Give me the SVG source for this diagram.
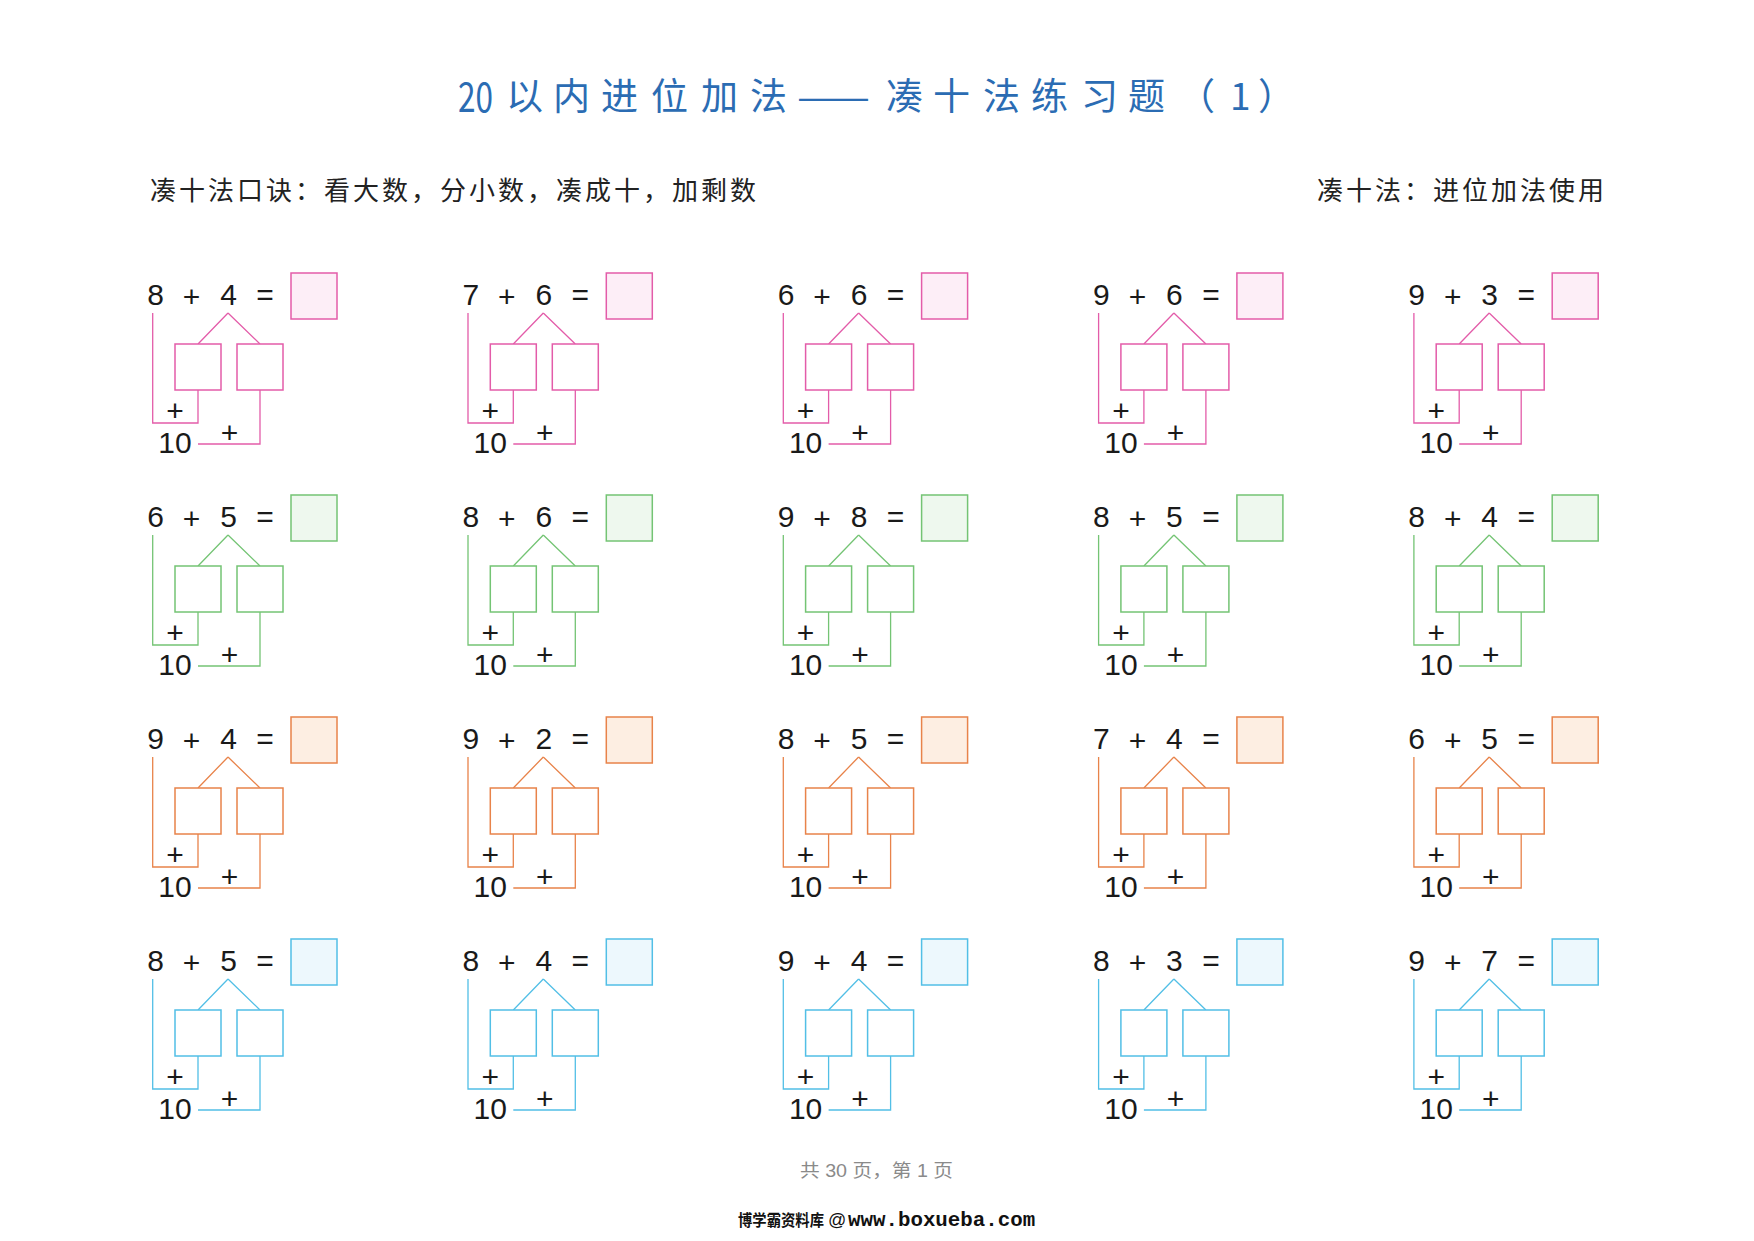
<svg xmlns="http://www.w3.org/2000/svg" xmlns:xlink="http://www.w3.org/1999/xlink" width="1754" height="1241" viewBox="0 0 1754 1241">
<style>
.bg{fill:#ffffff}
.title{font-family:"Noto Sans CJK SC","Liberation Sans",sans-serif;font-size:37px;fill:#2b6cb3}
.ttl20{font-family:"Noto Sans CJK SC","Liberation Sans",sans-serif;font-size:41px;fill:#2b6cb3}
.sub{font-family:"Noto Sans CJK SC",sans-serif;font-size:26px;fill:#222;letter-spacing:3px}
.num{font-family:"Liberation Sans","Noto Sans CJK SC",sans-serif;font-size:30px;fill:#1a1a1a;text-anchor:middle}
.foot1{font-family:"Liberation Sans","Noto Sans CJK SC",sans-serif;font-size:18px;fill:#8a8a8a}
.foot2{font-family:"Noto Sans CJK SC",sans-serif;font-size:16px;fill:#111;font-weight:bold}
.mono{font-family:"Liberation Mono",monospace;font-size:20.8px;font-weight:bold;fill:#111}
.at{font-family:"Liberation Sans",sans-serif;font-size:18px;fill:#111}
.cell rect{stroke-width:1.5}
.part{fill:#ffffff}
.pk rect{stroke:#e35ca9}.pk .ans{fill:#fdeef7}
.gr rect{stroke:#74c474}.gr .ans{fill:#eef8ee}
.or rect{stroke:#e8834a}.or .ans{fill:#fdeee2}
.bl rect{stroke:#52bfe6}.bl .ans{fill:#edf8fd}
.link{fill:none;stroke-width:1.3}
</style>
<defs>
<path id="lk" d="M152.7,313 V423 H198 V390 M228,313 L198,344 M228,313 L260,344 M198,444 H260 V390"/>
</defs>
<rect class="bg" x="0" y="0" width="1754" height="1241"/>

<g id="title">
<text class="ttl20" x="458" y="112" textLength="35" lengthAdjust="spacingAndGlyphs">20</text>
<text class="title" x="506 553 601 651 701 750" y="110">以内进位加法</text>
<text class="title" x="797" y="110" textLength="73" lengthAdjust="spacingAndGlyphs">——</text>
<text class="title" x="886 933 983 1031 1081 1128 1178 1230 1258" y="110">凑十法练习题（1）</text>
</g>
<text id="rhyme" class="sub" x="150" y="200">凑十法口诀：看大数，分小数，凑成十，加剩数</text>
<text id="usage" class="sub" x="1317" y="200">凑十法：进位加法使用</text>

<g id="connectors" class="link">
<use xlink:href="#lk" stroke="#e35ca9" transform="translate(0,0)"/>
<use xlink:href="#lk" stroke="#e35ca9" transform="translate(315.3,0)"/>
<use xlink:href="#lk" stroke="#e35ca9" transform="translate(630.6,0)"/>
<use xlink:href="#lk" stroke="#e35ca9" transform="translate(945.9,0)"/>
<use xlink:href="#lk" stroke="#e35ca9" transform="translate(1261.2,0)"/>
<use xlink:href="#lk" stroke="#74c474" transform="translate(0,222)"/>
<use xlink:href="#lk" stroke="#74c474" transform="translate(315.3,222)"/>
<use xlink:href="#lk" stroke="#74c474" transform="translate(630.6,222)"/>
<use xlink:href="#lk" stroke="#74c474" transform="translate(945.9,222)"/>
<use xlink:href="#lk" stroke="#74c474" transform="translate(1261.2,222)"/>
<use xlink:href="#lk" stroke="#e8834a" transform="translate(0,444)"/>
<use xlink:href="#lk" stroke="#e8834a" transform="translate(315.3,444)"/>
<use xlink:href="#lk" stroke="#e8834a" transform="translate(630.6,444)"/>
<use xlink:href="#lk" stroke="#e8834a" transform="translate(945.9,444)"/>
<use xlink:href="#lk" stroke="#e8834a" transform="translate(1261.2,444)"/>
<use xlink:href="#lk" stroke="#52bfe6" transform="translate(0,666)"/>
<use xlink:href="#lk" stroke="#52bfe6" transform="translate(315.3,666)"/>
<use xlink:href="#lk" stroke="#52bfe6" transform="translate(630.6,666)"/>
<use xlink:href="#lk" stroke="#52bfe6" transform="translate(945.9,666)"/>
<use xlink:href="#lk" stroke="#52bfe6" transform="translate(1261.2,666)"/>
</g>

<!-- Row 1 -->
<g id="q1" class="cell pk" transform="translate(0,0)">
<rect class="ans" x="291" y="273" width="46" height="46"/><rect class="part" x="175" y="344" width="46" height="46"/><rect class="part" x="237" y="344" width="46" height="46"/>
<text class="num" x="155.5" y="305">8</text><text class="num" x="191.5" y="306.5">+</text><text class="num" x="228.5" y="305">4</text><text class="num" x="265" y="304.5">=</text>
<text class="num" x="175" y="420.5">+</text><text class="num" x="229.5" y="442.5">+</text><text class="num" x="175" y="453">10</text>
</g>
<g id="q2" class="cell pk" transform="translate(315.3,0)">
<rect class="ans" x="291" y="273" width="46" height="46"/><rect class="part" x="175" y="344" width="46" height="46"/><rect class="part" x="237" y="344" width="46" height="46"/>
<text class="num" x="155.5" y="305">7</text><text class="num" x="191.5" y="306.5">+</text><text class="num" x="228.5" y="305">6</text><text class="num" x="265" y="304.5">=</text>
<text class="num" x="175" y="420.5">+</text><text class="num" x="229.5" y="442.5">+</text><text class="num" x="175" y="453">10</text>
</g>
<g id="q3" class="cell pk" transform="translate(630.6,0)">
<rect class="ans" x="291" y="273" width="46" height="46"/><rect class="part" x="175" y="344" width="46" height="46"/><rect class="part" x="237" y="344" width="46" height="46"/>
<text class="num" x="155.5" y="305">6</text><text class="num" x="191.5" y="306.5">+</text><text class="num" x="228.5" y="305">6</text><text class="num" x="265" y="304.5">=</text>
<text class="num" x="175" y="420.5">+</text><text class="num" x="229.5" y="442.5">+</text><text class="num" x="175" y="453">10</text>
</g>
<g id="q4" class="cell pk" transform="translate(945.9,0)">
<rect class="ans" x="291" y="273" width="46" height="46"/><rect class="part" x="175" y="344" width="46" height="46"/><rect class="part" x="237" y="344" width="46" height="46"/>
<text class="num" x="155.5" y="305">9</text><text class="num" x="191.5" y="306.5">+</text><text class="num" x="228.5" y="305">6</text><text class="num" x="265" y="304.5">=</text>
<text class="num" x="175" y="420.5">+</text><text class="num" x="229.5" y="442.5">+</text><text class="num" x="175" y="453">10</text>
</g>
<g id="q5" class="cell pk" transform="translate(1261.2,0)">
<rect class="ans" x="291" y="273" width="46" height="46"/><rect class="part" x="175" y="344" width="46" height="46"/><rect class="part" x="237" y="344" width="46" height="46"/>
<text class="num" x="155.5" y="305">9</text><text class="num" x="191.5" y="306.5">+</text><text class="num" x="228.5" y="305">3</text><text class="num" x="265" y="304.5">=</text>
<text class="num" x="175" y="420.5">+</text><text class="num" x="229.5" y="442.5">+</text><text class="num" x="175" y="453">10</text>
</g>

<!-- Row 2 -->
<g id="q6" class="cell gr" transform="translate(0,222)">
<rect class="ans" x="291" y="273" width="46" height="46"/><rect class="part" x="175" y="344" width="46" height="46"/><rect class="part" x="237" y="344" width="46" height="46"/>
<text class="num" x="155.5" y="305">6</text><text class="num" x="191.5" y="306.5">+</text><text class="num" x="228.5" y="305">5</text><text class="num" x="265" y="304.5">=</text>
<text class="num" x="175" y="420.5">+</text><text class="num" x="229.5" y="442.5">+</text><text class="num" x="175" y="453">10</text>
</g>
<g id="q7" class="cell gr" transform="translate(315.3,222)">
<rect class="ans" x="291" y="273" width="46" height="46"/><rect class="part" x="175" y="344" width="46" height="46"/><rect class="part" x="237" y="344" width="46" height="46"/>
<text class="num" x="155.5" y="305">8</text><text class="num" x="191.5" y="306.5">+</text><text class="num" x="228.5" y="305">6</text><text class="num" x="265" y="304.5">=</text>
<text class="num" x="175" y="420.5">+</text><text class="num" x="229.5" y="442.5">+</text><text class="num" x="175" y="453">10</text>
</g>
<g id="q8" class="cell gr" transform="translate(630.6,222)">
<rect class="ans" x="291" y="273" width="46" height="46"/><rect class="part" x="175" y="344" width="46" height="46"/><rect class="part" x="237" y="344" width="46" height="46"/>
<text class="num" x="155.5" y="305">9</text><text class="num" x="191.5" y="306.5">+</text><text class="num" x="228.5" y="305">8</text><text class="num" x="265" y="304.5">=</text>
<text class="num" x="175" y="420.5">+</text><text class="num" x="229.5" y="442.5">+</text><text class="num" x="175" y="453">10</text>
</g>
<g id="q9" class="cell gr" transform="translate(945.9,222)">
<rect class="ans" x="291" y="273" width="46" height="46"/><rect class="part" x="175" y="344" width="46" height="46"/><rect class="part" x="237" y="344" width="46" height="46"/>
<text class="num" x="155.5" y="305">8</text><text class="num" x="191.5" y="306.5">+</text><text class="num" x="228.5" y="305">5</text><text class="num" x="265" y="304.5">=</text>
<text class="num" x="175" y="420.5">+</text><text class="num" x="229.5" y="442.5">+</text><text class="num" x="175" y="453">10</text>
</g>
<g id="q10" class="cell gr" transform="translate(1261.2,222)">
<rect class="ans" x="291" y="273" width="46" height="46"/><rect class="part" x="175" y="344" width="46" height="46"/><rect class="part" x="237" y="344" width="46" height="46"/>
<text class="num" x="155.5" y="305">8</text><text class="num" x="191.5" y="306.5">+</text><text class="num" x="228.5" y="305">4</text><text class="num" x="265" y="304.5">=</text>
<text class="num" x="175" y="420.5">+</text><text class="num" x="229.5" y="442.5">+</text><text class="num" x="175" y="453">10</text>
</g>

<!-- Row 3 -->
<g id="q11" class="cell or" transform="translate(0,444)">
<rect class="ans" x="291" y="273" width="46" height="46"/><rect class="part" x="175" y="344" width="46" height="46"/><rect class="part" x="237" y="344" width="46" height="46"/>
<text class="num" x="155.5" y="305">9</text><text class="num" x="191.5" y="306.5">+</text><text class="num" x="228.5" y="305">4</text><text class="num" x="265" y="304.5">=</text>
<text class="num" x="175" y="420.5">+</text><text class="num" x="229.5" y="442.5">+</text><text class="num" x="175" y="453">10</text>
</g>
<g id="q12" class="cell or" transform="translate(315.3,444)">
<rect class="ans" x="291" y="273" width="46" height="46"/><rect class="part" x="175" y="344" width="46" height="46"/><rect class="part" x="237" y="344" width="46" height="46"/>
<text class="num" x="155.5" y="305">9</text><text class="num" x="191.5" y="306.5">+</text><text class="num" x="228.5" y="305">2</text><text class="num" x="265" y="304.5">=</text>
<text class="num" x="175" y="420.5">+</text><text class="num" x="229.5" y="442.5">+</text><text class="num" x="175" y="453">10</text>
</g>
<g id="q13" class="cell or" transform="translate(630.6,444)">
<rect class="ans" x="291" y="273" width="46" height="46"/><rect class="part" x="175" y="344" width="46" height="46"/><rect class="part" x="237" y="344" width="46" height="46"/>
<text class="num" x="155.5" y="305">8</text><text class="num" x="191.5" y="306.5">+</text><text class="num" x="228.5" y="305">5</text><text class="num" x="265" y="304.5">=</text>
<text class="num" x="175" y="420.5">+</text><text class="num" x="229.5" y="442.5">+</text><text class="num" x="175" y="453">10</text>
</g>
<g id="q14" class="cell or" transform="translate(945.9,444)">
<rect class="ans" x="291" y="273" width="46" height="46"/><rect class="part" x="175" y="344" width="46" height="46"/><rect class="part" x="237" y="344" width="46" height="46"/>
<text class="num" x="155.5" y="305">7</text><text class="num" x="191.5" y="306.5">+</text><text class="num" x="228.5" y="305">4</text><text class="num" x="265" y="304.5">=</text>
<text class="num" x="175" y="420.5">+</text><text class="num" x="229.5" y="442.5">+</text><text class="num" x="175" y="453">10</text>
</g>
<g id="q15" class="cell or" transform="translate(1261.2,444)">
<rect class="ans" x="291" y="273" width="46" height="46"/><rect class="part" x="175" y="344" width="46" height="46"/><rect class="part" x="237" y="344" width="46" height="46"/>
<text class="num" x="155.5" y="305">6</text><text class="num" x="191.5" y="306.5">+</text><text class="num" x="228.5" y="305">5</text><text class="num" x="265" y="304.5">=</text>
<text class="num" x="175" y="420.5">+</text><text class="num" x="229.5" y="442.5">+</text><text class="num" x="175" y="453">10</text>
</g>

<!-- Row 4 -->
<g id="q16" class="cell bl" transform="translate(0,666)">
<rect class="ans" x="291" y="273" width="46" height="46"/><rect class="part" x="175" y="344" width="46" height="46"/><rect class="part" x="237" y="344" width="46" height="46"/>
<text class="num" x="155.5" y="305">8</text><text class="num" x="191.5" y="306.5">+</text><text class="num" x="228.5" y="305">5</text><text class="num" x="265" y="304.5">=</text>
<text class="num" x="175" y="420.5">+</text><text class="num" x="229.5" y="442.5">+</text><text class="num" x="175" y="453">10</text>
</g>
<g id="q17" class="cell bl" transform="translate(315.3,666)">
<rect class="ans" x="291" y="273" width="46" height="46"/><rect class="part" x="175" y="344" width="46" height="46"/><rect class="part" x="237" y="344" width="46" height="46"/>
<text class="num" x="155.5" y="305">8</text><text class="num" x="191.5" y="306.5">+</text><text class="num" x="228.5" y="305">4</text><text class="num" x="265" y="304.5">=</text>
<text class="num" x="175" y="420.5">+</text><text class="num" x="229.5" y="442.5">+</text><text class="num" x="175" y="453">10</text>
</g>
<g id="q18" class="cell bl" transform="translate(630.6,666)">
<rect class="ans" x="291" y="273" width="46" height="46"/><rect class="part" x="175" y="344" width="46" height="46"/><rect class="part" x="237" y="344" width="46" height="46"/>
<text class="num" x="155.5" y="305">9</text><text class="num" x="191.5" y="306.5">+</text><text class="num" x="228.5" y="305">4</text><text class="num" x="265" y="304.5">=</text>
<text class="num" x="175" y="420.5">+</text><text class="num" x="229.5" y="442.5">+</text><text class="num" x="175" y="453">10</text>
</g>
<g id="q19" class="cell bl" transform="translate(945.9,666)">
<rect class="ans" x="291" y="273" width="46" height="46"/><rect class="part" x="175" y="344" width="46" height="46"/><rect class="part" x="237" y="344" width="46" height="46"/>
<text class="num" x="155.5" y="305">8</text><text class="num" x="191.5" y="306.5">+</text><text class="num" x="228.5" y="305">3</text><text class="num" x="265" y="304.5">=</text>
<text class="num" x="175" y="420.5">+</text><text class="num" x="229.5" y="442.5">+</text><text class="num" x="175" y="453">10</text>
</g>
<g id="q20" class="cell bl" transform="translate(1261.2,666)">
<rect class="ans" x="291" y="273" width="46" height="46"/><rect class="part" x="175" y="344" width="46" height="46"/><rect class="part" x="237" y="344" width="46" height="46"/>
<text class="num" x="155.5" y="305">9</text><text class="num" x="191.5" y="306.5">+</text><text class="num" x="228.5" y="305">7</text><text class="num" x="265" y="304.5">=</text>
<text class="num" x="175" y="420.5">+</text><text class="num" x="229.5" y="442.5">+</text><text class="num" x="175" y="453">10</text>
</g>

<g id="footer">
<text class="foot1" x="800" y="1177" textLength="153" lengthAdjust="spacingAndGlyphs">共 30 页，第 1 页</text>
<text class="foot2" x="738" y="1226" textLength="86" lengthAdjust="spacingAndGlyphs">博学霸资料库</text>
<text class="at" x="828" y="1226">@</text>
<text class="mono" x="848" y="1226">www.boxueba.com</text>
</g>
</svg>
